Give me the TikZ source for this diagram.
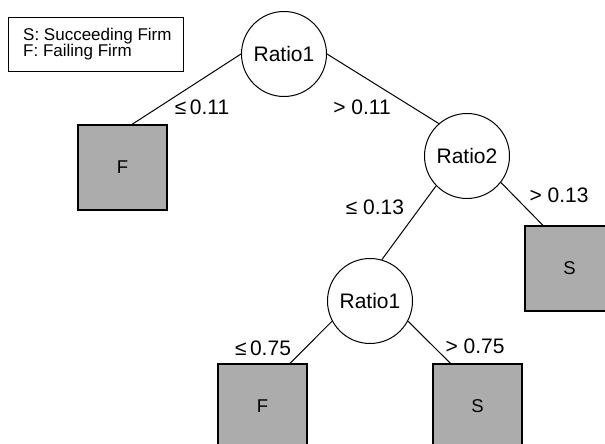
\documentclass[tikz,border=0pt]{standalone}
\usepackage{fontspec}
\setmainfont{Liberation Sans}
\definecolor{leafgray}{RGB}{172,172,172}

\begin{document}
\begin{tikzpicture}[x=1pt,y=1pt,
        split/.style={draw,circle,line width=1pt,minimum size=85pt,inner sep=0pt,font=\fontsize{21}{21}\selectfont},
        leaf/.style={draw,line width=1.2pt,fill=leafgray,minimum width=89pt,minimum height=85pt,inner sep=0pt,font=\fontsize{18.5}{18.5}\selectfont},
        cond/.style={font=\fontsize{21}{21}\selectfont,inner sep=1pt},
        edge/.style={line width=1pt}]
        \path[use as bounding box,clip] (0,0) rectangle (605,444);
        % legend
        \draw[line width=1pt] (8,372) rectangle (183,426);
        \node (key) at (23,399.5) [anchor=west,align=left,inner sep=0pt,font=\fontsize{17}{16}\selectfont] {S: Succeeding Firm\\F: Failing Firm};
        % splits
        \node[split] (root) at (284,390) {Ratio1};
        \node[split] (ratio2) at (467,288) {Ratio2};
        \node[split] (lower) at (370,143) {Ratio1};
        % leaves
        \node[leaf] (f1) at (122.5,276.5) {F};
        \node[leaf] (s1) at (569.5,175.5) {S};
        \node[leaf] (f2) at (262.5,37.5) {F};
        \node[leaf] (s2) at (477.5,37.5) {S};
        % branches
        \draw[edge] (root.180)--([xshift=9.5pt]f1.north);
        \draw[edge] (root.0)--(ratio2.131);
        \draw[edge] (ratio2.-38)--([xshift=-26.5pt]s1.north);
        \draw[edge] (ratio2.-136)--(lower.74);
        \draw[edge] (lower.-152)--([xshift=27.5pt]f2.north);
        \draw[edge] (lower.-28)--([xshift=-27pt]s2.north);
        % conditions
        \node[cond] (c1) at (202,337) {≤\,0.11};
        \node[cond] (c2) at (362,337) {> 0.11};
        \node[cond] (c3) at (375,237) {≤ 0.13};
        \node[cond] (c4) at (559,249) {> 0.13};
        \node[cond] (c5) at (263,96) {≤\,0.75};
        \node[cond] (c6) at (475,98) {> 0.75};
    \end{tikzpicture}
\end{document}
